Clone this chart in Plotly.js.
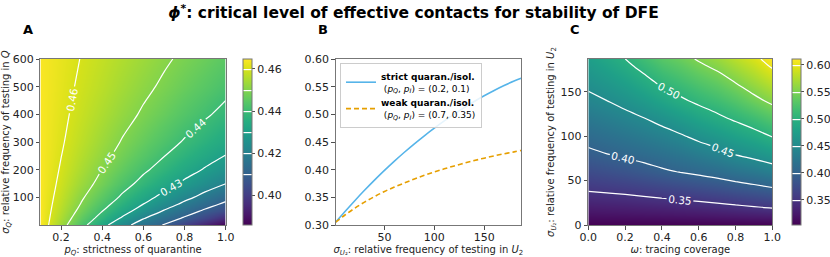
<!DOCTYPE html>
<html>
<head>
<meta charset="utf-8">
<script src="https://cdn.plot.ly/plotly-3.0.1.min.js"></script>
<style>html,body{margin:0;padding:0;background:#fff;}#chart{width:830px;height:257px;}</style>
</head>
<body>
<div id="chart"></div>
<script>
// ---------- Panel A data: phi* over p_Q (x) and sigma_Q (y) ----------
const A_pQ = [0.1, 0.2, 0.3, 0.4, 0.5, 0.6, 0.7, 0.8, 0.9, 1.0];
const A_sigmaQ = [0, 25, 50, 75, 100, 150, 200, 250, 300, 400, 500, 600];
const A_phi = [
  [0.4645, 0.4531, 0.4426, 0.4329, 0.4230, 0.4156, 0.4095, 0.4010, 0.3930, 0.3860],
  [0.4644, 0.4547, 0.4455, 0.4370, 0.4289, 0.4206, 0.4147, 0.4091, 0.4025, 0.3955],
  [0.4643, 0.4559, 0.4478, 0.4401, 0.4330, 0.4260, 0.4193, 0.4140, 0.4085, 0.4040],
  [0.4643, 0.4568, 0.4495, 0.4426, 0.4362, 0.4299, 0.4239, 0.4182, 0.4133, 0.4083],
  [0.4642, 0.4576, 0.4508, 0.4447, 0.4387, 0.4331, 0.4276, 0.4222, 0.4173, 0.4127],
  [0.4643, 0.4587, 0.4531, 0.4478, 0.4427, 0.4378, 0.4332, 0.4286, 0.4242, 0.4201],
  [0.4643, 0.4595, 0.4547, 0.4499, 0.4456, 0.4412, 0.4372, 0.4332, 0.4293, 0.4256],
  [0.4643, 0.4601, 0.4559, 0.4518, 0.4478, 0.4440, 0.4402, 0.4367, 0.4332, 0.4298],
  [0.4643, 0.4606, 0.4569, 0.4531, 0.4495, 0.4461, 0.4427, 0.4394, 0.4363, 0.4333],
  [0.4643, 0.4612, 0.4582, 0.4551, 0.4521, 0.4492, 0.4464, 0.4436, 0.4409, 0.4381],
  [0.4643, 0.4617, 0.4591, 0.4566, 0.4540, 0.4514, 0.4490, 0.4466, 0.4443, 0.4419],
  [0.4643, 0.4620, 0.4598, 0.4576, 0.4554, 0.4532, 0.4509, 0.4488, 0.4468, 0.4447]
];
const A_levels = {start: 0.41, end: 0.46, size: 0.01};
const A_cbTicks = [0.40, 0.42, 0.44, 0.46];

// ---------- Panel B data: phi* vs sigma_U2 ----------
const B_sigmaU2 = [1, 10, 20, 30, 40, 50, 60, 70, 80, 90, 100, 110, 120, 130, 140, 150, 160, 170, 180, 187];
const B_strict = [0.305, 0.3235, 0.3435, 0.3627, 0.3811, 0.3987, 0.4155, 0.4315, 0.4467, 0.4612, 0.4750, 0.4881, 0.5005, 0.5122, 0.5232, 0.5335, 0.5431, 0.5520, 0.5602, 0.5650];
const B_weak   = [0.305, 0.3176, 0.3301, 0.3413, 0.3514, 0.3606, 0.3686, 0.3760, 0.3831, 0.3897, 0.3958, 0.4015, 0.4068, 0.4117, 0.4164, 0.4208, 0.4249, 0.4287, 0.4322, 0.4348];
const B_names = [
  "<b>strict quaran./isol.</b><br> (<i>p<sub>Q</sub></i>, <i>p<sub>I</sub></i>) = (0.2, 0.1)",
  "<b>weak quaran./isol.</b><br> (<i>p<sub>Q</sub></i>, <i>p<sub>I</sub></i>) = (0.7, 0.35)"
];

// ---------- Panel C data: phi* over omega (x) and sigma_U2 (y) ----------
const C_omega = [0, 0.1, 0.2, 0.3, 0.4, 0.5, 0.6, 0.7, 0.8, 0.9, 1.0];
const C_sigmaU2 = [0, 20, 40, 60, 80, 100, 120, 140, 160, 180, 187];
const C_phi = [
  [0.303, 0.303, 0.303, 0.303, 0.303, 0.303, 0.303, 0.303, 0.303, 0.303, 0.303],
  [0.3280, 0.3293, 0.3306, 0.3324, 0.3343, 0.3363, 0.3385, 0.3414, 0.3448, 0.3484, 0.3522],
  [0.3526, 0.3548, 0.3575, 0.3610, 0.3652, 0.3692, 0.3737, 0.3787, 0.3843, 0.3897, 0.3957],
  [0.3732, 0.3774, 0.3825, 0.3884, 0.3955, 0.4011, 0.4064, 0.4121, 0.4194, 0.4263, 0.4346],
  [0.3938, 0.3998, 0.4054, 0.4110, 0.4173, 0.4239, 0.4321, 0.4407, 0.4514, 0.4596, 0.4694],
  [0.4109, 0.4167, 0.4232, 0.4300, 0.4378, 0.4466, 0.4575, 0.4675, 0.4784, 0.4890, 0.5014],
  [0.4266, 0.4333, 0.4411, 0.4490, 0.4593, 0.4707, 0.4825, 0.4935, 0.5045, 0.5162, 0.5292],
  [0.4422, 0.4498, 0.4588, 0.4694, 0.4826, 0.4951, 0.5060, 0.5156, 0.5273, 0.5422, 0.5561],
  [0.4567, 0.4654, 0.4763, 0.4898, 0.5048, 0.5151, 0.5260, 0.5365, 0.5498, 0.5649, 0.5805],
  [0.4700, 0.4808, 0.4939, 0.5091, 0.5240, 0.5340, 0.5460, 0.5567, 0.5713, 0.5862, 0.6044],
  [0.4747, 0.4862, 0.4998, 0.5155, 0.5308, 0.5406, 0.5527, 0.5635, 0.5787, 0.5936, 0.6105]
];
const C_levels = {start: 0.35, end: 0.60, size: 0.05};
const C_cbTicks = [0.35, 0.40, 0.45, 0.50, 0.55, 0.60];

// ---------- styling ----------
const W = 830, H = 257;
const FONT = "DejaVu Sans, Verdana, sans-serif";
const fx = p => p / W;
const fy = p => 1 - p / H;
const plotTop = 59, plotBot = 225;
const yDom = [fy(plotBot), fy(plotTop)];

function contourTrace(x, y, z, levels, zmin, zmax, cbX, cbTicks, xa, ya, labelSize) {
  return {
    type: 'contour', x: x, y: y, z: z,
    xaxis: xa, yaxis: ya,
    colorscale: 'Viridis', zmin: zmin, zmax: zmax, zauto: false,
    autocontour: false,
    contours: {start: levels.start, end: levels.end, size: levels.size,
               coloring: 'heatmap', showlabels: true,
               labelfont: {family: FONT, size: labelSize, color: 'white'},
               labelformat: '.2f'},
    line: {color: 'white', width: 1.2, smoothing: 1},
    showlegend: false, hoverinfo: 'skip',
    colorbar: {
      x: fx(cbX), xanchor: 'left', xref: 'paper',
      y: (yDom[0] + yDom[1]) / 2, yanchor: 'middle',
      len: (plotBot - plotTop) / H, lenmode: 'fraction',
      thickness: 9, thicknessmode: 'pixels',
      xpad: 0, ypad: 0,
      outlinewidth: 1, outlinecolor: '#777',
      tickvals: cbTicks, tickformat: '.2f',
      ticks: 'outside', ticklen: 3, tickwidth: 0.8, tickcolor: '#222',
      tickfont: {family: FONT, size: 11, color: '#222'}
    }
  };
}

const data = [
  contourTrace(A_pQ, A_sigmaQ, A_phi, A_levels, 0.386, 0.4647, 243, A_cbTicks, 'x', 'y', 10.5),
  {type: 'scatter', mode: 'lines', x: B_sigmaU2, y: B_strict, xaxis: 'x2', yaxis: 'y2',
   name: B_names[0], line: {color: '#56B4E9', width: 1.6, shape: 'spline', smoothing: 1}},
  {type: 'scatter', mode: 'lines', x: B_sigmaU2, y: B_weak, xaxis: 'x2', yaxis: 'y2',
   name: B_names[1], line: {color: '#E69F00', width: 1.6, dash: '5px,3px', shape: 'spline', smoothing: 1}},
  contourTrace(C_omega, C_sigmaU2, C_phi, C_levels, 0.303, 0.611, 791.7, C_cbTicks, 'x3', 'y3', 10.5)
];

function axis(extra) {
  return Object.assign({
    showline: true, mirror: true, linecolor: '#777', linewidth: 1,
    showgrid: false, zeroline: false,
    ticks: 'outside', ticklen: 3.5, tickwidth: 0.8, tickcolor: '#222',
    tickfont: {family: FONT, size: 11, color: '#222'},
    automargin: false, fixedrange: true
  }, extra);
}
const titleFont = {family: FONT, size: 10, color: '#222'};

const layout = {
  width: W, height: H,
  margin: {l: 0, r: 0, t: 0, b: 0},
  paper_bgcolor: 'white', plot_bgcolor: 'white',
  font: {family: FONT, color: '#222'},
  title: {text: "<b><i>ϕ</i><sup>*</sup>: critical level of effective contacts for stability of DFE</b>",
          x: fx(414), xanchor: 'center', xref: 'paper', y: fy(13), yanchor: 'middle', yref: 'paper',
          font: {family: FONT, size: 15.5, color: '#000'}},
  xaxis: axis({domain: [fx(40.5), fx(226)], anchor: 'y', range: [0.1, 1.0],
               tickvals: [0.2, 0.4, 0.6, 0.8, 1.0], tickformat: '.1f', ticklabelstandoff: -2,
               title: {text: "<i>p<sub>Q</sub></i>: strictness of quarantine", font: titleFont, standoff: 1}}),
  yaxis: axis({domain: yDom, anchor: 'x', range: [0, 600],
               tickvals: [100, 200, 300, 400, 500, 600],
               title: {text: "<i>σ<sub>Q</sub></i>: relative frequency of testing in <i>Q</i>", font: titleFont, standoff: 4}}),
  xaxis2: axis({domain: [fx(336), fx(521.7)], anchor: 'y2', range: [1, 187],
                tickvals: [50, 100, 150], ticklabelstandoff: -2,
                title: {text: "<i>σ<sub>U</sub></i><sub>₂</sub>: relative frequency of testing in <i>U</i><sub>2</sub>", font: titleFont, standoff: 1}}),
  yaxis2: axis({domain: yDom, anchor: 'x2', range: [0.3, 0.6],
                tickvals: [0.30, 0.35, 0.40, 0.45, 0.50, 0.55, 0.60], tickformat: '.2f'}),
  xaxis3: axis({domain: [fx(589), fx(773.3)], anchor: 'y3', range: [0, 1],
                tickvals: [0, 0.2, 0.4, 0.6, 0.8, 1.0], tickformat: '.1f', ticklabelstandoff: -2,
                title: {text: "<i>ω</i>: tracing coverage", font: titleFont, standoff: 1}}),
  yaxis3: axis({domain: yDom, anchor: 'x3', range: [0, 187],
                tickvals: [0, 50, 100, 150],
                title: {text: "<i>σ<sub>U</sub></i><sub>₂</sub>: relative frequency of testing in <i>U</i><sub>2</sub>", font: titleFont, standoff: 4}}),
  showlegend: true,
  legend: {x: fx(340), y: fy(63), xanchor: 'left', yanchor: 'top', xref: 'paper', yref: 'paper',
           bgcolor: 'rgba(255,255,255,0.85)', bordercolor: '#ccc', borderwidth: 1,
           font: {family: FONT, size: 9, color: '#000'}, itemwidth: 30, tracegroupgap: 0},
  annotations: [
    {text: '<b>A</b>', x: fx(28), y: fy(29), xref: 'paper', yref: 'paper', showarrow: false,
     xanchor: 'center', yanchor: 'middle', font: {family: FONT, size: 13, color: '#000'}},
    {text: '<b>B</b>', x: fx(323), y: fy(29), xref: 'paper', yref: 'paper', showarrow: false,
     xanchor: 'center', yanchor: 'middle', font: {family: FONT, size: 13, color: '#000'}},
    {text: '<b>C</b>', x: fx(576), y: fy(29), xref: 'paper', yref: 'paper', showarrow: false,
     xanchor: 'center', yanchor: 'middle', font: {family: FONT, size: 13, color: '#000'}}
  ]
};

Plotly.newPlot('chart', data, layout, {displayModeBar: false, staticPlot: true});
</script>
</body>
</html>
